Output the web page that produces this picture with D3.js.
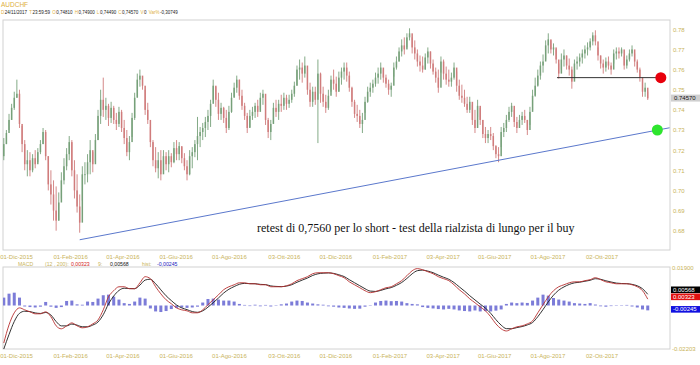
<!DOCTYPE html>
<html><head><meta charset="utf-8">
<script src="https://cdn.jsdelivr.net/npm/d3@7"></script>
<style>body{margin:0;background:#fff}svg{display:block}</style>
</head><body>
<svg id="c" width="700" height="365"></svg>
<script>
// ---------- DATA ----------
// price bars (every 3 calendar days, last bar 24/11/2017), values x 1e-4
const lastBarDate = "2017-11-24";
const barStepDays = 3;
const highs = [7260,7300,7380,7430,7490,7550,7500,7320,7250,7200,7190,7180,7200,7210,7250,7310,7300,7170,7100,7050,
7020,6990,7090,7160,7210,7270,7250,7150,7080,6980,7120,7140,7180,7250,7190,7280,7400,7500,7560,7460,
7430,7440,7420,7385,7415,7400,7350,7300,7270,7385,7485,7580,7600,7565,7500,7435,7315,7250,7215,7190,
7200,7200,7190,7200,7185,7240,7250,7240,7215,7185,7150,7200,7215,7250,7365,7315,7335,7365,7400,7450,
7550,7515,7485,7435,7415,7400,7420,7485,7535,7570,7550,7500,7435,7385,7400,7415,7435,7450,7485,7500,
7450,7360,7350,7435,7450,7450,7475,7485,7475,7475,7500,7540,7620,7650,7635,7665,7585,7535,7515,7515,
7650,7585,7515,7475,7500,7570,7600,7565,7590,7610,7635,7635,7590,7515,7450,7425,7400,7385,7465,7515,
7535,7550,7585,7610,7635,7600,7575,7550,7535,7635,7665,7710,7750,7760,7780,7805,7760,7745,7700,7670,
7665,7680,7710,7690,7650,7610,7600,7665,7650,7615,7600,7585,7635,7590,7550,7525,7500,7465,7465,7425,
7400,7450,7410,7350,7315,7300,7315,7285,7225,7215,7315,7335,7375,7415,7435,7400,7365,7375,7390,7400,
7350,7415,7500,7560,7600,7640,7675,7745,7780,7745,7730,7700,7630,7680,7700,7670,7655,7615,7650,7665,
7680,7700,7720,7735,7755,7785,7795,7710,7670,7650,7660,7665,7635,7700,7710,7710,7710,7665,7670,7700,
7720,7680,7650,7610,7560,7535,7490];
const lows = [7150,7230,7300,7350,7400,7460,7310,7190,7100,7070,7070,7090,7110,7140,7180,7230,7150,7000,6930,6850,
6800,6850,6960,7030,7100,7150,7070,6960,6890,6790,6950,7030,7040,7080,7090,7140,7250,7330,7365,7350,
7320,7335,7330,7300,7315,7290,7230,7170,7150,7265,7350,7465,7515,7500,7375,7330,7215,7120,7090,7060,
7050,7100,7100,7090,7115,7135,7150,7150,7135,7100,7050,7075,7110,7165,7150,7215,7250,7265,7300,7315,
7450,7415,7350,7350,7335,7285,7300,7385,7465,7485,7450,7400,7350,7285,7315,7350,7360,7365,7400,7425,
7325,7260,7250,7335,7365,7350,7390,7400,7400,7410,7435,7465,7520,7550,7535,7560,7475,7415,7415,7425,
7235,7435,7415,7385,7400,7490,7500,7465,7490,7525,7550,7540,7490,7415,7360,7340,7310,7285,7385,7435,
7465,7485,7515,7530,7550,7535,7510,7475,7465,7565,7600,7640,7665,7675,7710,7745,7680,7650,7615,7590,
7585,7600,7630,7605,7575,7535,7485,7585,7550,7525,7515,7515,7550,7490,7450,7435,7415,7385,7385,7325,
7285,7365,7325,7260,7235,7235,7250,7200,7160,7140,7215,7265,7290,7340,7365,7315,7285,7310,7325,7335,
7275,7325,7400,7465,7515,7550,7585,7650,7680,7680,7670,7630,7555,7600,7615,7600,7570,7505,7585,7600,
7615,7630,7655,7670,7695,7720,7720,7645,7605,7580,7590,7600,7575,7630,7650,7655,7665,7600,7605,7640,
7665,7615,7585,7540,7465,7465,7449];
const closes = [7230,7285,7350,7410,7460,7480,7330,7230,7130,7150,7100,7160,7130,7190,7230,7290,7170,7030,6980,6900,
6850,6940,7050,7120,7180,7240,7100,7000,6920,6840,7080,7080,7140,7200,7130,7250,7370,7450,7400,7420,
7360,7410,7350,7330,7390,7310,7260,7190,7240,7360,7460,7550,7570,7520,7400,7350,7240,7150,7110,7150,
7080,7170,7130,7170,7140,7210,7180,7220,7160,7120,7080,7170,7190,7230,7270,7290,7310,7340,7370,7430,
7520,7450,7380,7410,7360,7310,7390,7460,7510,7550,7470,7420,7370,7310,7370,7390,7420,7390,7460,7480,
7350,7290,7330,7410,7390,7430,7420,7460,7430,7450,7480,7520,7600,7610,7580,7620,7500,7440,7490,7450,
7580,7480,7440,7410,7470,7550,7530,7490,7560,7590,7610,7570,7510,7440,7380,7370,7330,7350,7440,7490,
7510,7530,7560,7580,7610,7560,7530,7500,7520,7610,7640,7690,7720,7700,7760,7780,7710,7680,7640,7620,
7600,7660,7690,7630,7590,7560,7510,7640,7580,7550,7540,7560,7610,7520,7470,7460,7430,7400,7440,7350,
7310,7420,7350,7280,7260,7280,7270,7220,7180,7170,7290,7310,7350,7390,7420,7340,7310,7350,7370,7350,
7300,7390,7470,7520,7570,7620,7640,7720,7750,7700,7710,7650,7580,7650,7670,7620,7600,7540,7630,7640,
7660,7680,7700,7710,7740,7770,7740,7670,7630,7610,7640,7620,7600,7680,7690,7680,7700,7620,7650,7680,
7700,7640,7600,7560,7490,7510,7457];
const firstOpen = 7170;

// MACD (12,200) / signal (9) / histogram, every 6 calendar days, values x 1e-5
const macdStepDays = 6;
const macdLine = [-1900,-980,-370,-120,-220,-320,-420,-420,-320,-570,-1030,-1180,-1030,-880,-1030,-1130,-1080,-930,-730,-220,
440,750,950,950,850,850,1150,1460,1360,950,590,290,90,-120,-220,-270,-370,-370,-220,40,
290,540,800,950,1050,1150,1150,1100,1100,1050,1050,950,950,950,1000,1100,1260,1360,1460,1610,
1660,1660,1660,1610,1510,1410,1200,1050,900,750,650,700,800,900,950,1100,1260,1510,1760,1870,
1810,1710,1610,1460,1360,1260,1050,800,590,340,140,-70,-270,-570,-930,-1180,-1290,-1180,-1080,-1030,
-930,-780,-370,40,440,750,950,1050,1150,1200,1200,1260,1310,1410,1310,1200,1150,1100,1100,1100,
1050,950,750,323];
const signalLine = [-2203,-1469,-810,-396,-290,-308,-375,-402,-353,-483,-811,-1032,-1031,-940,-994,-1076,-1078,-989,-834,-466,
78,481,762,875,860,854,1032,1289,1332,1103,795,492,251,28,-121,-210,-306,-344,-270,-84,
140,380,632,823,959,1074,1120,1108,1103,1071,1058,993,967,957,983,1053,1177,1287,1391,1522,
1605,1638,1651,1626,1556,1468,1307,1153,1001,850,730,712,765,846,908,1023,1165,1372,1605,1764,
1792,1743,1663,1541,1432,1329,1162,945,732,497,283,71,-134,-396,-716,-994,-1172,-1177,-1119,-1066,
-984,-862,-567,-203,183,523,779,942,1067,1147,1179,1228,1277,1357,1329,1252,1191,1136,1114,1106,
1072,999,850,568];
const histValues = [400,600,650,400,-50,-80,-100,-60,180,-60,-120,-80,230,250,60,40,200,180,350,520,
550,450,300,120,80,200,400,350,-150,-300,-330,-280,-180,-120,-100,-120,-100,-60,150,330,
350,300,250,250,200,80,30,-30,40,-40,30,-50,20,60,100,200,250,230,150,100,
60,40,-40,-60,-100,-120,-150,-170,-160,-60,20,150,230,250,220,230,200,120,80,60,
-80,-120,-150,-180,-200,-170,-200,-250,-280,-300,-250,-300,-280,-300,-260,-200,80,150,120,150,
130,250,400,550,500,380,300,250,200,120,100,80,120,50,-40,-60,-30,20,-20,30,
-50,-100,-200,-245];

const tickDates = ["2015-12-01","2016-02-01","2016-04-01","2016-06-01","2016-08-01","2016-10-03",
  "2016-12-01","2017-02-01","2017-04-03","2017-06-01","2017-08-01","2017-10-02"];
const tickLabels = ["01-Dic-2015","01-Feb-2016","01-Apr-2016","01-Giu-2016","01-Ago-2016","03-Ott-2016",
  "01-Dic-2016","01-Feb-2017","03-Apr-2017","01-Giu-2017","01-Ago-2017","02-Ott-2017"];
const priceTicks = [0.68,0.69,0.70,0.71,0.72,0.73,0.74,0.75,0.76,0.77,0.78];
const macdTicks = [0.019,-0.02203];

const lastPrice = 0.7457;
const lastMacd = 0.00323, lastSignal = 0.00568, lastHist = -0.00245;
const trendStart = {date:"2016-02-12", price:0.6755};
const trendEnd = {date:"2017-12-19", price:0.7311};
const resistance = {from:"2017-08-12", to:"2017-12-09", price:0.7560};
const redDot = {date:"2017-12-09", price:0.7560};
const greenDot = {date:"2017-12-05", price:0.7300};
const noteText = "retest di 0,7560 per lo short - test della rialzista di lungo per il buy";
const symbol = "AUDCHF";
const headerItems = [["D","24/11/2017"],["T","23:59:59"],["O","0,74810"],["H","0,74900"],
  ["L","0,74490"],["C","0,74570"],["V","0"],["Var%","-0,30749"]];

// ---------- DRAW ----------
const parse = d3.timeParse("%Y-%m-%d");
const svg = d3.select("#c");
const sans = "'Liberation Sans', Arial, sans-serif";
const gold = "#c9b35a";
const P = {l:3, r:670, t:20, b:250};
const M = {t:267, b:349};

const x = d3.scaleTime().domain([parse("2015-12-01"), parse("2017-10-02")]).range([16, 601.5]);
const y = d3.scaleLinear().domain([0.68, 0.78]).range([230.7, 29.3]);
const ym = d3.scaleLinear().domain([-0.02203, 0.019]).range([349, 268]);

const last = parse(lastBarDate);
const N = closes.length;
const bars = closes.map((c,i)=>({
  date: d3.timeDay.offset(last, -barStepDays*(N-1-i)),
  o: (i===0?firstOpen:closes[i-1])/1e4, h: highs[i]/1e4, l: lows[i]/1e4, c: c/1e4
}));
const NM = macdLine.length;
const macd = macdLine.map((v,i)=>({
  date: d3.timeDay.offset(last, -macdStepDays*(NM-1-i)),
  m: v/1e5, s: signalLine[i]/1e5, h: histValues[i]/1e5
}));

// frames
svg.append("rect").attr("x",P.l).attr("y",P.t).attr("width",P.r-P.l).attr("height",P.b-P.t)
  .attr("fill","none").attr("stroke","#d2d2d2");
svg.append("rect").attr("x",P.l).attr("y",M.t).attr("width",P.r-P.l).attr("height",M.b-M.t)
  .attr("fill","none").attr("stroke","#d2d2d2");

// header
svg.append("text").attr("x",1).attr("y",6.5).attr("font-family",sans).attr("font-size",6.5)
  .attr("fill","#e0b040").text(symbol);
const ht = svg.append("text").attr("x",1).attr("y",14).attr("font-family",sans).attr("font-size",4.5)
  .attr("xml:space","preserve");
headerItems.forEach((it,i)=>{
  ht.append("tspan").attr("fill","#e0b040").attr("dx", i===0?0:2.2).text(it[0]);
  ht.append("tspan").attr("fill","#222").attr("dx",0.5).text(it[1]);
});

// clip
svg.append("clipPath").attr("id","cp").append("rect")
  .attr("x",P.l).attr("y",P.t).attr("width",P.r-P.l).attr("height",P.b-P.t);
const gp = svg.append("g").attr("clip-path","url(#cp)");

// candles
const up = "#76a079", dn = "#d07c7c";
const cg = gp.append("g");
cg.selectAll("line").data(bars).join("line")
  .attr("x1",d=>x(d.date)).attr("x2",d=>x(d.date))
  .attr("y1",d=>y(d.h)).attr("y2",d=>y(d.l))
  .attr("stroke",d=>d.c>=d.o?up:dn).attr("stroke-width",0.9);
cg.selectAll("rect").data(bars).join("rect")
  .attr("x",d=>x(d.date)-0.75).attr("width",1.5)
  .attr("y",d=>y(Math.max(d.o,d.c)))
  .attr("height",d=>Math.max(0.8, Math.abs(y(d.o)-y(d.c))))
  .attr("fill",d=>d.c>=d.o?up:dn);

// trend line
gp.append("line")
  .attr("x1",x(parse(trendStart.date))).attr("y1",y(trendStart.price))
  .attr("x2",x(parse(trendEnd.date))).attr("y2",y(trendEnd.price))
  .attr("stroke","#5b78cc").attr("stroke-width",1);
// resistance line
gp.append("line")
  .attr("x1",x(parse(resistance.from))).attr("x2",x(parse(resistance.to)))
  .attr("y1",y(resistance.price)).attr("y2",y(resistance.price))
  .attr("stroke","#333").attr("stroke-width",1);
// dots
svg.append("circle").attr("cx",x(parse(redDot.date))).attr("cy",y(redDot.price)).attr("r",5.5)
  .attr("fill","#e8000c");
svg.append("circle").attr("cx",x(parse(greenDot.date))).attr("cy",y(greenDot.price)).attr("r",5.5)
  .attr("fill","#2ee52e");

// note
svg.append("text").attr("x",257).attr("y",232)
  .attr("font-family","'Liberation Serif','Times New Roman',serif").attr("font-size",12)
  .attr("fill","#111").text(noteText);

// price axis
const ay = svg.append("g").attr("transform",`translate(${P.r},0)`)
  .call(d3.axisRight(y).tickValues(priceTicks).tickFormat(d3.format(".2f")).tickSize(0).tickPadding(3));
ay.select(".domain").remove();
ay.selectAll("text").attr("font-family",sans).attr("font-size",6).attr("fill",gold);

// last price box
svg.append("rect").attr("x",671).attr("y",y(lastPrice)-3.8).attr("width",29).attr("height",7)
  .attr("fill","#cfcfcf");
svg.append("text").attr("x",674).attr("y",y(lastPrice)+1.8).attr("font-family",sans)
  .attr("font-size",6).attr("fill","#111").text(lastPrice.toFixed(5));

// date axes
function dateAxis(yPos){
  const g = svg.append("g").attr("transform",`translate(0,${yPos})`)
    .call(d3.axisBottom(x).tickValues(tickDates.map(parse))
      .tickFormat((d,i)=>tickLabels[i]).tickSize(0).tickPadding(4.5));
  g.select(".domain").remove();
  g.selectAll("text").attr("font-family",sans).attr("font-size",6).attr("fill",gold);
}
dateAxis(P.b);
dateAxis(M.b);

// MACD header
const mh = svg.append("g").attr("font-family",sans).attr("font-size",5.2);
mh.append("text").attr("x",18).attr("y",266).attr("fill",gold).text("MACD");
mh.append("text").attr("x",45).attr("y",266).attr("fill",gold).text("(12 , 200):");
mh.append("text").attr("x",71).attr("y",266).attr("fill","#d42020").text(lastMacd.toFixed(5).replace(".",","));
mh.append("text").attr("x",98).attr("y",266).attr("fill",gold).text("9:");
mh.append("text").attr("x",110).attr("y",266).attr("fill","#111").text(lastSignal.toFixed(5).replace(".",","));
mh.append("text").attr("x",142).attr("y",266).attr("fill",gold).text("hist:");
mh.append("text").attr("x",157).attr("y",266).attr("fill","#2222c0").text(lastHist.toFixed(5).replace(".",","));

// MACD panel
svg.append("clipPath").attr("id","cm").append("rect")
  .attr("x",P.l).attr("y",M.t).attr("width",P.r-P.l).attr("height",M.b-M.t+1);
const gm = svg.append("g").attr("clip-path","url(#cm)");
gm.selectAll("rect.h").data(macd).join("rect").attr("class","h")
  .attr("x",d=>x(d.date)-1.5).attr("width",3)
  .attr("y",d=>Math.min(ym(0),ym(d.h))).attr("height",d=>Math.abs(ym(d.h)-ym(0)))
  .attr("fill","#7c7cd8");
gm.append("path").datum(macd).attr("fill","none").attr("stroke","#1c1c1c").attr("stroke-width",0.9)
  .attr("d",d3.line().x(d=>x(d.date)).y(d=>ym(d.s)).curve(d3.curveMonotoneX));
gm.append("path").datum(macd).attr("fill","none").attr("stroke","#b83030").attr("stroke-width",0.9)
  .attr("d",d3.line().x(d=>x(d.date)).y(d=>ym(d.m)).curve(d3.curveMonotoneX));

const am = svg.append("g").attr("transform",`translate(${P.r},0)`)
  .call(d3.axisRight(ym).tickValues(macdTicks).tickFormat(d=>d.toFixed(5)).tickSize(0).tickPadding(2));
am.select(".domain").remove();
am.selectAll("text").attr("font-family",sans).attr("font-size",6).attr("fill",gold);

// value boxes
const boxes = [
  {v:lastSignal, c:"#000", dy:-4.5},
  {v:lastMacd, c:"#e01010", dy:-2.3},
  {v:lastHist, c:"#1010e0", dy:-1}
];
boxes.forEach(b=>{
  const cy = ym(b.v)+b.dy;
  svg.append("rect").attr("x",671).attr("y",cy-3.3).attr("width",29).attr("height",6.6).attr("fill",b.c);
  svg.append("text").attr("x",673).attr("y",cy+2).attr("font-family",sans).attr("font-size",6)
    .attr("fill","#fff").text(b.v.toFixed(5));
});
</script>
</body></html>
